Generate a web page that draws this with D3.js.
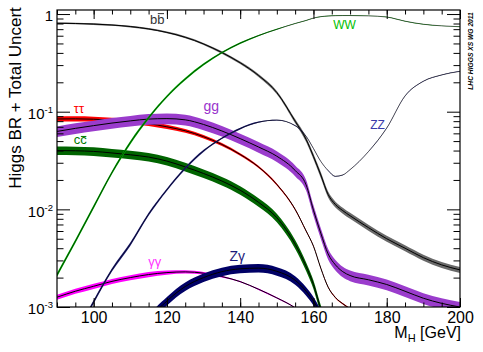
<!DOCTYPE html>
<html>
<head>
<meta charset="utf-8">
<script src="https://cdn.jsdelivr.net/npm/d3@7"></script>
<style>
  body { margin: 0; background: #fff; }
  svg { display: block; }
  text { font-family: "Liberation Sans", Arial, Helvetica, sans-serif; }
</style>
</head>
<body>
<div id="chart"></div>
<script>
// Higgs mass grid (GeV)
var mass = [90, 95, 100, 105, 110, 115, 120, 125, 130, 135, 140, 145, 150, 155, 158,
            160, 162, 164, 166, 168, 170, 175, 180, 185, 190, 195, 200];

// branching ratios
var brBB     = [0.805, 0.800, 0.790, 0.772, 0.745, 0.704, 0.648, 0.578, 0.494, 0.404, 0.317, 0.235, 0.157, 0.080, 0.052,
                0.0348, 0.0225, 0.0142, 0.0112, 0.0097, 0.0086, 0.0065, 0.0050, 0.0040, 0.0032, 0.0027, 0.0024];
var brTauTau = [0.0842, 0.0845, 0.0838, 0.0820, 0.0795, 0.0755, 0.0700, 0.0638, 0.0555, 0.0462, 0.0365, 0.0272, 0.0180, 0.0100, 0.0060,
                0.0042, 0.0025, 0.0016, 0.00125, 0.00108, 0.00096, 0.00075, null, null, null, null, null];
var brCC     = [0.0400, 0.0398, 0.0392, 0.0378, 0.0362, 0.0343, 0.0312, 0.0272, 0.0233, 0.0195, 0.0157, 0.0118, 0.0082, 0.0044, 0.0026,
                0.0017, 0.00095, 0.0006, null, null, null, null, null, null, null, null, null];
var brGG     = [0.0628, 0.0675, 0.0720, 0.0765, 0.0805, 0.0840, 0.0850, 0.0825, 0.0740, 0.0635, 0.0530, 0.0435, 0.0350, 0.0250, 0.0178,
                0.0098, 0.0057, 0.0035, 0.0027, 0.0023, 0.0021, 0.0019, 0.0017, 0.00145, 0.00123, 0.00109, 0.00100];
var brGamGam = [0.00126, 0.00145, 0.00163, 0.00183, 0.00200, 0.00215, 0.00225, 0.00229, 0.00222, 0.00205, 0.00182, 0.00152, 0.00124, 0.00098, 0.00080,
                0.00066, null, null, null, null, null, null, null, null, null, null, null];
var brZGam   = [null, null, null, null, 0.00030, 0.00072, 0.00115, 0.00162, 0.00200, 0.00230, 0.00246, 0.00250, 0.00232, 0.00188, 0.00145,
                0.00115, 0.00085, 0.0006, null, null, null, null, null, null, null, null, null];
var brWW     = [0.00213, 0.0047, 0.0106, 0.0238, 0.0482, 0.0867, 0.143, 0.216, 0.305, 0.403, 0.503, 0.602, 0.698, 0.800, 0.860,
                0.909, 0.940, 0.955, 0.962, 0.965, 0.965, 0.958, 0.932, 0.845, 0.786, 0.757, 0.741];
var brZZ     = [0.00022, 0.00050, 0.00113, 0.0024, 0.0044, 0.0089, 0.0159, 0.0264, 0.0397, 0.0535, 0.0672, 0.0780, 0.0820, 0.0720, 0.0560,
                0.0420, 0.0310, 0.0250, 0.0218, 0.0225, 0.0255, 0.0390, 0.0680, 0.145, 0.205, 0.238, 0.259];

// relative total uncertainty (+/-)
var errBB     = [0.02, 0.02, 0.02, 0.02, 0.02, 0.02, 0.02, 0.025, 0.025, 0.03, 0.03, 0.035, 0.04, 0.05, 0.06,
                 0.065, 0.07, 0.07, 0.07, 0.07, 0.07, 0.07, 0.07, 0.07, 0.07, 0.07, 0.07];
var errTauTau = [0.06, 0.06, 0.06, 0.06, 0.06, 0.055, 0.05, 0.045, 0.04, 0.035, 0.03, 0.027, 0.024, 0.02, 0.016,
                 0.015, 0.015, 0.015, 0.015, 0.015, 0.015, 0.015, 0.015, 0.015, 0.015, 0.015, 0.015];
var errGamGam = [0.06, 0.06, 0.06, 0.06, 0.06, 0.06, 0.05, 0.04, 0.03, 0.022, 0.016, 0.015, 0.015, 0.015, 0.015,
                 0.015, 0.015, 0.015, 0.015, 0.015, 0.015, 0.015, 0.015, 0.015, 0.015, 0.015, 0.015];
var errWW     = [0.045, 0.045, 0.045, 0.04, 0.04, 0.035, 0.03, 0.03, 0.025, 0.02, 0.02, 0.015, 0.01, 0.008, 0.006,
                 0.005, 0.005, 0.005, 0.005, 0.005, 0.005, 0.005, 0.005, 0.005, 0.005, 0.005, 0.005];
var errZZ = errWW;
var errCC = 0.10, errGG = 0.125, errZGam = 0.10;

var xTicks = [100, 120, 140, 160, 180, 200];
var yDecades = [1e-3, 1e-2, 1e-1, 1];

// channel table: drawing order, colours, labels (label placed in mass / BR units, "bar" = overlined 2nd letter)
var channels = [
  {br: brBB,     err: errBB,     fill: "#6a6a6a", lw: 1,   label: ["b", "b"], bar: 0.80, lx: 115.4, ly: 0.79,    color: "#333333", size: 13},
  {br: brTauTau, err: errTauTau, fill: "#ff0000", lw: 1,   label: ["\u03c4\u03c4"],   lx: 94.6,  ly: 0.0976,  color: "#ff0000", size: 13},
  {br: brCC,     err: errCC,     fill: "#006400", lw: 1,   label: ["c", "c"], bar: 0.60, lx: 94.6,  ly: 0.0464,  color: "#007a00", size: 13},
  {br: brGG,     err: errGG,     fill: "#9a3ccc", lw: 1,   label: ["gg"],             lx: 130.0, ly: 0.1016,  color: "#9933cc", size: 14},
  {br: brGamGam, err: errGamGam, fill: "#ff00ff", lw: 1,   label: ["\u03b3\u03b3"],   lx: 114.9, ly: 0.00263, color: "#ff33ff", size: 13},
  {br: brZGam,   err: errZGam,   fill: "#000066", lw: 1,   label: ["Z\u03b3"],        lx: 137.1, ly: 0.00296, color: "#1a1a7a", size: 14},
  {br: brWW,     err: errWW,     fill: "#00b400", lw: 0.6, label: ["WW"],             lx: 165.4, ly: 0.698,   color: "#00c000", size: 12},
  {br: brZZ,     err: errZZ,     fill: "#1e1e78", lw: 0.6, label: ["ZZ"],             lx: 175.5, ly: 0.066,   color: "#3a3aaa", size: 12}
];

var width = 483, height = 352;
var margin = {top: 10, right: 24, bottom: 45, left: 57};
var x = d3.scaleLinear().domain([90, 200]).range([margin.left, width - margin.right + 1]);
var y = d3.scaleLog().domain([1e-3, 1.1]).range([height - margin.bottom, margin.top]);

var svg = d3.select("#chart").append("svg")
    .attr("width", width)
    .attr("height", height);

svg.append("clipPath").attr("id", "plot")
  .append("rect")
    .attr("x", x(90)).attr("y", y(1.1))
    .attr("width", x(200) - x(90)).attr("height", y(1e-3) - y(1.1));

var g = svg.append("g").attr("clip-path", "url(#plot)");

channels.forEach(function(c) {
  var pts = mass.map(function(m, i) {
    var e = Array.isArray(c.err) ? c.err[i] : c.err;
    return {m: m, v: c.br[i], e: e};
  });
  var area = d3.area()
      .defined(function(d) { return d.v != null; })
      .x(function(d) { return x(d.m); })
      .y0(function(d) { return y(d.v * (1 - d.e)); })
      .y1(function(d) { return y(d.v * (1 + d.e)); })
      .curve(d3.curveMonotoneX);
  var line = d3.line()
      .defined(function(d) { return d.v != null; })
      .x(function(d) { return x(d.m); })
      .y(function(d) { return y(d.v); })
      .curve(d3.curveMonotoneX);
  g.append("path").attr("d", area(pts)).attr("fill", c.fill).attr("stroke", "none");
  g.append("path").attr("d", line(pts)).attr("fill", "none").attr("stroke", "#000").attr("stroke-width", c.lw);
});

// channel labels
channels.forEach(function(c) {
  var t = svg.append("text")
      .attr("x", x(c.lx)).attr("y", y(c.ly))
      .attr("font-size", c.size)
      .attr("fill", c.color);
  t.append("tspan").text(c.label[0]);
  if (c.label.length > 1) {
    var sp = t.append("tspan").text(c.label[1]);
    var node = sp.node();
    var x0 = node.getStartPositionOfChar(0).x;
    var len = node.getComputedTextLength();
    var yb = y(c.ly) - c.bar * c.size;
    svg.append("line")
        .attr("x1", x0 + 0.5).attr("x2", x0 + len - 0.5)
        .attr("y1", yb).attr("y2", yb)
        .attr("stroke", c.color).attr("stroke-width", 1);
  }
});

// axes, ROOT style ticks pointing inwards on all four sides
var minorX = d3.range(90, 201, 5);
var minorY = [];
yDecades.forEach(function(d) {
  for (var k = 2; k <= 9; k++) if (d * k <= 1.1) minorY.push(d * k);
});

function clean(sel) {
  sel.select(".domain").remove();
  sel.selectAll("line").attr("stroke", "#000");
}

svg.append("g").attr("transform", "translate(0," + y(1e-3) + ")")
    .call(d3.axisBottom(x).tickValues(minorX).tickSize(-4.5).tickFormat(""))
    .call(clean);
svg.append("g").attr("transform", "translate(0," + y(1e-3) + ")")
    .call(d3.axisBottom(x).tickValues(xTicks).tickSize(-9).tickPadding(5).tickFormat(d3.format("d")))
    .call(clean)
    .selectAll("text").attr("font-size", 16).attr("fill", "#000")
    .style("font-family", "'Liberation Sans', Arial, sans-serif");
svg.append("g").attr("transform", "translate(0," + y(1.1) + ")")
    .call(d3.axisTop(x).tickValues(minorX).tickSize(-4.5).tickFormat(""))
    .call(clean);
svg.append("g").attr("transform", "translate(0," + y(1.1) + ")")
    .call(d3.axisTop(x).tickValues(xTicks).tickSize(-9).tickFormat(""))
    .call(clean);

svg.append("g").attr("transform", "translate(" + x(90) + ",0)")
    .call(d3.axisLeft(y).tickValues(minorY).tickSize(-6.5).tickFormat(""))
    .call(clean);
svg.append("g").attr("transform", "translate(" + x(90) + ",0)")
    .call(d3.axisLeft(y).tickValues(yDecades).tickSize(-13).tickFormat(""))
    .call(clean);
svg.append("g").attr("transform", "translate(" + x(200) + ",0)")
    .call(d3.axisRight(y).tickValues(minorY).tickSize(-6.5).tickFormat(""))
    .call(clean);
svg.append("g").attr("transform", "translate(" + x(200) + ",0)")
    .call(d3.axisRight(y).tickValues(yDecades).tickSize(-13).tickFormat(""))
    .call(clean);

// y tick labels 1, 10^-1 ...
yDecades.forEach(function(d) {
  var t = svg.append("text")
      .attr("x", x(90) - 4).attr("y", y(d) + 7.3)
      .attr("text-anchor", "end")
      .attr("font-size", 15)
      .attr("fill", "#000");
  if (d === 1) {
    t.text("1");
  } else {
    t.append("tspan").text("10");
    t.append("tspan").attr("dy", -6).attr("font-size", 9.5).text(String(Math.round(Math.log10(d))));
  }
});

// frame
svg.append("rect")
    .attr("x", x(90)).attr("y", y(1.1))
    .attr("width", x(200) - x(90)).attr("height", y(1e-3) - y(1.1))
    .attr("fill", "none").attr("stroke", "#000").attr("stroke-width", 1.2);

// axis titles (x title sits just under the tick labels, right aligned)
var xt = svg.append("text")
    .attr("x", x(200) + 1).attr("y", 338)
    .attr("text-anchor", "end").attr("font-size", 16).attr("fill", "#000");
xt.append("tspan").text("M");
xt.append("tspan").attr("dy", 4).attr("font-size", 11).text("H");
xt.append("tspan").attr("dy", -4).text(" [GeV]");

svg.append("text")
    .attr("transform", "translate(21,98) rotate(-90)")
    .attr("text-anchor", "middle").attr("font-size", 17).attr("fill", "#000")
    .text("Higgs BR + Total Uncert");

svg.append("text")
    .attr("transform", "translate(473.3,51) rotate(-90)")
    .attr("text-anchor", "middle").attr("font-size", 6.7)
    .attr("font-weight", "bold").attr("font-style", "italic").attr("fill", "#000")
    .text("LHC HIGGS XS WG 2011");
</script>
</body>
</html>
